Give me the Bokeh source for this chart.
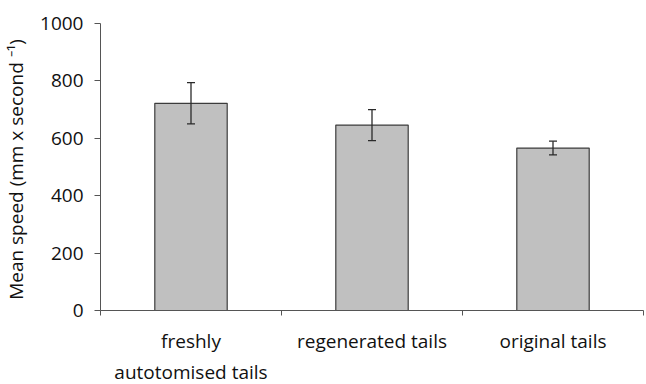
from bokeh.plotting import figure
from bokeh.models import ColumnDataSource, FixedTicker, Range1d, Whisker
from bokeh.embed import file_html
from bokeh.resources import INLINE

categories = ["freshly\nautotomised tails", "regenerated tails", "original tails"]
mean_speed = [722, 646, 566]
err = [72, 54, 24]
y_ticks = [0, 200, 400, 600, 800, 1000]

xs = [i + 0.5 for i in range(len(categories))]
src = ColumnDataSource(dict(
    x=xs, top=mean_speed,
    upper=[m + e for m, e in zip(mean_speed, err)],
    lower=[m - e for m, e in zip(mean_speed, err)],
))

FONT = "Open Sans"
TXT = "#111111"
AX = "#555555"

p = figure(frame_width=543, frame_height=287, output_backend="svg", toolbar_location=None,
           x_range=Range1d(0, len(categories)), y_range=Range1d(0, 1000),
           min_border_left=100, min_border_right=3, min_border_top=23, min_border_bottom=60)
p.outline_line_color = None
p.xgrid.grid_line_color = None
p.ygrid.grid_line_color = None

p.vbar(x="x", top="top", width=0.4, bottom=0, source=src,
       fill_color="#c0c0c0", line_color="#3c3c3c", line_width=1.2)

w = Whisker(base="x", upper="upper", lower="lower", source=src,
            line_color="#2a2a2a", line_width=1.3, level="overlay")
for h in (w.upper_head, w.lower_head):
    h.size = 8
    h.line_color = "#2a2a2a"
    h.line_width = 1.3
p.add_layout(w)

# x axis
p.xaxis.ticker = FixedTicker(ticks=xs, minor_ticks=list(range(len(categories) + 1)))
p.xaxis.major_label_overrides = {x: c for x, c in zip(xs, categories)}
p.xaxis.major_tick_out = 0
p.xaxis.major_tick_in = 0
p.xaxis.minor_tick_out = 5
p.xaxis.minor_tick_in = 0
p.xaxis.minor_tick_line_color = AX
p.xaxis.axis_line_color = AX
p.xaxis.major_label_text_font = FONT
p.xaxis.major_label_text_font_size = "19px"
p.xaxis.major_label_text_color = TXT
p.xaxis.major_label_standoff = 12

# y axis
p.yaxis.ticker = FixedTicker(ticks=y_ticks)
p.yaxis.minor_tick_line_color = None
p.yaxis.major_tick_out = 6
p.yaxis.major_tick_in = 0
p.yaxis.major_tick_line_color = AX
p.yaxis.axis_line_color = AX
p.yaxis.major_label_text_font = FONT
p.yaxis.major_label_text_font_size = "19px"
p.yaxis.major_label_text_color = TXT
p.yaxis.major_label_standoff = 11
p.yaxis.axis_label = "Mean speed  (mm x second \u207b\u00b9)"
p.yaxis.axis_label_text_font = FONT
p.yaxis.axis_label_text_font_size = "19px"
p.yaxis.axis_label_text_font_style = "normal"
p.yaxis.axis_label_text_color = TXT
p.yaxis.axis_label_standoff = 8

open("out.html", "w").write(file_html(p, INLINE))
